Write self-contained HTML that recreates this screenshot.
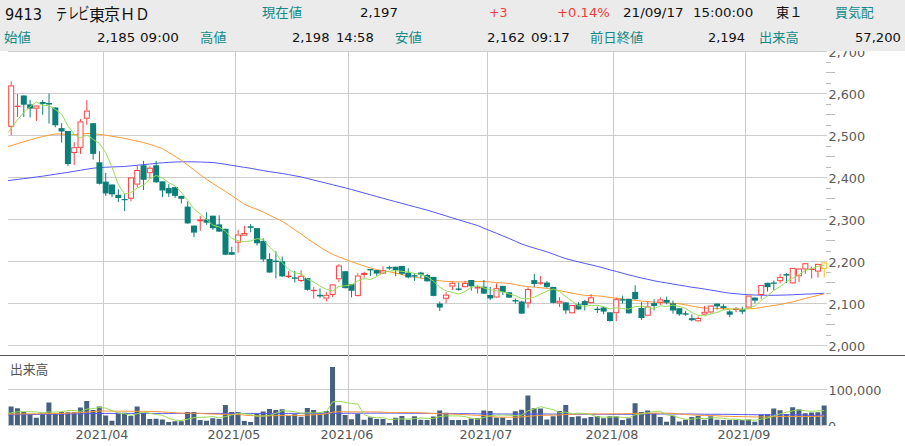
<!DOCTYPE html>
<html><head><meta charset="utf-8">
<style>
html,body{margin:0;padding:0;}
body{width:905px;height:446px;overflow:hidden;background:#fff;position:relative;font-family:"DejaVu Sans","Liberation Sans","Noto Sans CJK JP",sans-serif;}
#hd{position:absolute;left:0;top:0;width:905px;height:51px;background:#ebebeb;}
.t{position:absolute;white-space:nowrap;line-height:1;transform-origin:0 0;}
.n{font-family:"DejaVu Sans","Liberation Sans",sans-serif;font-size:12.8px;color:#111;}
.c{font-family:"Liberation Sans","Noto Sans CJK JP",sans-serif;color:#111;}
.k{font-family:"Liberation Sans","Noto Sans CJK JP",sans-serif;font-size:13px;color:#138a8a;}
.r{color:#f03c3c;}
svg{position:absolute;left:0;top:0;}
.yl{position:absolute;left:828.5px;font-family:"DejaVu Sans",sans-serif;font-size:12.8px;color:#5a5a5a;line-height:16px;white-space:nowrap;}
.xl{position:absolute;top:427px;width:80px;text-align:center;font-family:"DejaVu Sans",sans-serif;font-size:12.5px;color:#555;line-height:16px;}
#vt{position:absolute;left:10px;top:362px;font-family:"Liberation Sans","Noto Sans CJK JP",sans-serif;font-size:12.8px;color:#555;line-height:16px;}
</style></head><body>
<svg width="905" height="446" viewBox="0 0 905 446">
<line x1="8" y1="51.5" x2="827" y2="51.5" stroke="#cccccc" stroke-width="1"/>
<line x1="8" y1="93.5" x2="827" y2="93.5" stroke="#cccccc" stroke-width="1"/>
<line x1="8" y1="135.5" x2="827" y2="135.5" stroke="#cccccc" stroke-width="1"/>
<line x1="8" y1="177.5" x2="827" y2="177.5" stroke="#cccccc" stroke-width="1"/>
<line x1="8" y1="219.5" x2="827" y2="219.5" stroke="#cccccc" stroke-width="1"/>
<line x1="8" y1="261.5" x2="827" y2="261.5" stroke="#cccccc" stroke-width="1"/>
<line x1="8" y1="303.5" x2="827" y2="303.5" stroke="#cccccc" stroke-width="1"/>
<line x1="8" y1="345.5" x2="827" y2="345.5" stroke="#cccccc" stroke-width="1"/>
<line x1="8" y1="389.5" x2="827" y2="389.5" stroke="#cccccc" stroke-width="1"/>
<line x1="8" y1="425.5" x2="827" y2="425.5" stroke="#cccccc" stroke-width="1"/>
<line x1="0" y1="355.5" x2="905" y2="355.5" stroke="#555555" stroke-width="1"/>
<line x1="103.5" y1="51" x2="103.5" y2="425" stroke="#cccccc" stroke-width="1"/>
<line x1="235.5" y1="51" x2="235.5" y2="425" stroke="#cccccc" stroke-width="1"/>
<line x1="348.5" y1="51" x2="348.5" y2="425" stroke="#cccccc" stroke-width="1"/>
<line x1="487.5" y1="51" x2="487.5" y2="425" stroke="#cccccc" stroke-width="1"/>
<line x1="613.5" y1="51" x2="613.5" y2="425" stroke="#cccccc" stroke-width="1"/>
<line x1="745.5" y1="51" x2="745.5" y2="425" stroke="#cccccc" stroke-width="1"/>
<path d="M826,62.5 h5 M826,72.5 h9 M826,83.5 h5 M826,104.5 h5 M826,114.5 h9 M826,125.5 h5 M826,146.5 h5 M826,156.5 h9 M826,167.5 h5 M826,188.5 h5 M826,198.5 h9 M826,209.5 h5 M826,230.5 h5 M826,240.5 h9 M826,251.5 h5 M826,272.5 h5 M826,282.5 h9 M826,293.5 h5 M826,314.5 h5 M826,324.5 h9 M826,335.5 h5" stroke="#bbbbbb" stroke-width="1" fill="none"/>
<path d="M8.60,406.4h5V425h-5ZM14.90,408.2h5V425h-5ZM21.21,412.1h5V425h-5ZM27.51,414.5h5V425h-5ZM33.81,417.8h5V425h-5ZM40.11,412.7h5V425h-5ZM46.42,402.4h5V425h-5ZM52.72,413.2h5V425h-5ZM59.02,412.1h5V425h-5ZM65.32,412.3h5V425h-5ZM71.63,412.3h5V425h-5ZM77.93,407.5h5V425h-5ZM84.23,401h5V425h-5ZM90.54,410.1h5V425h-5ZM96.84,406.4h5V425h-5ZM103.14,415.6h5V425h-5ZM109.44,420.7h5V425h-5ZM115.75,412.7h5V425h-5ZM122.05,412.7h5V425h-5ZM128.35,416h5V425h-5ZM134.65,406.4h5V425h-5ZM140.96,412.7h5V425h-5ZM147.26,419h5V425h-5ZM153.56,418.7h5V425h-5ZM159.86,419.6h5V425h-5ZM166.17,422h5V425h-5ZM172.47,421.2h5V425h-5ZM178.77,421.2h5V425h-5ZM185.08,411.9h5V425h-5ZM191.38,411.9h5V425h-5ZM197.68,420h5V425h-5ZM203.98,420.7h5V425h-5ZM210.29,418.2h5V425h-5ZM216.59,419h5V425h-5ZM222.89,404.9h5V425h-5ZM229.19,412.1h5V425h-5ZM235.50,412.1h5V425h-5ZM241.80,421h5V425h-5ZM248.10,422h5V425h-5ZM254.41,413.8h5V425h-5ZM260.71,411.5h5V425h-5ZM267.01,409h5V425h-5ZM273.31,409.9h5V425h-5ZM279.62,409.3h5V425h-5ZM285.92,416h5V425h-5ZM292.22,414.2h5V425h-5ZM298.52,416.8h5V425h-5ZM304.83,407.9h5V425h-5ZM311.13,409.9h5V425h-5ZM317.43,413.4h5V425h-5ZM323.73,411h5V425h-5ZM330.04,367.0h5V425h-5ZM336.34,405.2h5V425h-5ZM342.64,415h5V425h-5ZM348.95,419.3h5V425h-5ZM355.25,413.7h5V425h-5ZM361.55,419.7h5V425h-5ZM367.85,417.3h5V425h-5ZM374.16,418.9h5V425h-5ZM380.46,418.9h5V425h-5ZM386.76,422.9h5V425h-5ZM393.06,417.8h5V425h-5ZM399.37,416h5V425h-5ZM405.67,419.8h5V425h-5ZM411.97,416.3h5V425h-5ZM418.28,419.8h5V425h-5ZM424.58,420h5V425h-5ZM430.88,416.5h5V425h-5ZM437.18,410.4h5V425h-5ZM443.49,412.7h5V425h-5ZM449.79,420h5V425h-5ZM456.09,420h5V425h-5ZM462.39,420h5V425h-5ZM468.70,418.5h5V425h-5ZM475.00,418.2h5V425h-5ZM481.30,410.4h5V425h-5ZM487.61,411h5V425h-5ZM493.91,417.6h5V425h-5ZM500.21,417.6h5V425h-5ZM506.51,420h5V425h-5ZM512.82,411.2h5V425h-5ZM519.12,409.7h5V425h-5ZM525.42,395.5h5V425h-5ZM531.72,408.2h5V425h-5ZM538.03,408.6h5V425h-5ZM544.33,419.6h5V425h-5ZM550.63,416.3h5V425h-5ZM556.93,411h5V425h-5ZM563.24,404.9h5V425h-5ZM569.54,417.1h5V425h-5ZM575.84,416.3h5V425h-5ZM582.15,418.2h5V425h-5ZM588.45,417.1h5V425h-5ZM594.75,416h5V425h-5ZM601.05,418.2h5V425h-5ZM607.36,416.3h5V425h-5ZM613.66,416.3h5V425h-5ZM619.96,420h5V425h-5ZM626.26,418.2h5V425h-5ZM632.57,403.3h5V425h-5ZM638.87,412.1h5V425h-5ZM645.17,410.4h5V425h-5ZM651.48,413.2h5V425h-5ZM657.78,417.1h5V425h-5ZM664.08,421.8h5V425h-5ZM670.38,415.8h5V425h-5ZM676.69,421.5h5V425h-5ZM682.99,419.8h5V425h-5ZM689.29,417.1h5V425h-5ZM695.59,416h5V425h-5ZM701.90,419.8h5V425h-5ZM708.20,416.3h5V425h-5ZM714.50,419.8h5V425h-5ZM720.81,420h5V425h-5ZM727.11,420h5V425h-5ZM733.41,420h5V425h-5ZM739.71,420h5V425h-5ZM746.02,419.6h5V425h-5ZM752.32,421.8h5V425h-5ZM758.62,414.5h5V425h-5ZM764.92,414.2h5V425h-5ZM771.23,408.4h5V425h-5ZM777.53,410.2h5V425h-5ZM783.83,414h5V425h-5ZM790.13,407.2h5V425h-5ZM796.44,409.3h5V425h-5ZM802.74,413.3h5V425h-5ZM809.04,412.6h5V425h-5ZM815.35,412.2h5V425h-5ZM821.65,405.4h5V425h-5Z" fill="#46607e"/>
<path d="M8.00,414.90 L11.20,414.85 L17.50,414.75 L23.81,414.66 L30.11,414.56 L36.41,414.46 L42.71,414.36 L49.02,414.27 L55.32,414.17 L61.62,414.07 L67.92,413.97 L74.23,413.88 L80.53,413.78 L86.83,413.68 L93.14,413.58 L99.44,413.49 L105.74,413.40 L112.04,413.40 L118.35,413.40 L124.65,413.40 L130.95,413.40 L137.25,413.40 L143.56,413.40 L149.86,413.40 L156.16,413.40 L162.46,413.40 L168.77,413.40 L175.07,413.40 L181.37,413.40 L187.68,413.40 L193.98,413.40 L200.28,413.40 L206.58,413.40 L212.89,413.40 L219.19,413.40 L225.49,413.40 L231.79,413.40 L238.10,413.40 L244.40,413.40 L250.70,413.40 L257.01,413.40 L263.31,413.40 L269.61,413.40 L275.91,413.40 L282.22,413.40 L288.52,413.40 L294.82,413.40 L301.12,413.38 L307.43,413.36 L313.73,413.34 L320.03,413.32 L326.33,413.30 L332.64,413.28 L338.94,413.26 L345.24,413.24 L351.55,413.22 L357.85,413.20 L364.15,413.18 L370.45,413.16 L376.76,413.14 L383.06,413.12 L389.36,413.10 L395.66,413.14 L401.97,413.19 L408.27,413.23 L414.57,413.28 L420.88,413.33 L427.18,413.37 L433.48,413.42 L439.78,413.47 L446.09,413.51 L452.39,413.56 L458.69,413.61 L464.99,413.65 L471.30,413.70 L477.60,413.86 L483.90,413.91 L490.21,413.94 L496.51,413.99 L502.81,414.02 L509.11,414.04 L515.42,414.04 L521.72,414.10 L528.02,413.99 L534.32,413.98 L540.63,413.96 L546.93,414.02 L553.23,414.09 L559.53,414.17 L565.84,414.14 L572.14,414.22 L578.44,414.24 L584.75,414.21 L591.05,414.23 L597.35,414.25 L603.65,414.25 L609.96,414.31 L616.26,414.32 L622.56,414.32 L628.86,414.30 L635.17,414.19 L641.47,414.11 L647.77,414.03 L654.08,413.96 L660.38,413.99 L666.68,414.05 L672.98,414.01 L679.29,414.02 L685.59,414.06 L691.89,414.06 L698.19,414.16 L704.50,414.23 L710.80,414.28 L717.10,414.29 L723.41,414.30 L729.71,414.37 L736.01,414.45 L742.31,414.55 L748.62,414.64 L754.92,414.75 L761.22,414.76 L767.52,414.79 L773.83,414.76 L780.13,414.81 L786.43,414.88 L792.73,414.87 L799.04,414.89 L805.34,415.24 L811.64,415.32 L817.95,415.34 L824.25,415.28" stroke="#5555ff" stroke-width="1" fill="none"/>
<path d="M8.00,414.10 L11.20,414.06 L17.50,413.99 L23.81,413.92 L30.11,413.84 L36.41,413.77 L42.71,413.70 L49.02,413.63 L55.32,413.55 L61.62,413.44 L67.92,413.18 L74.23,412.93 L80.53,412.65 L86.83,412.12 L93.14,411.58 L99.44,411.05 L105.74,411.05 L112.04,411.10 L118.35,411.15 L124.65,411.21 L130.95,411.26 L137.25,411.31 L143.56,411.36 L149.86,411.42 L156.16,411.47 L162.46,411.89 L168.77,412.39 L175.07,412.84 L181.37,413.18 L187.68,413.21 L193.98,413.17 L200.28,413.40 L206.58,413.86 L212.89,414.07 L219.19,414.31 L225.49,414.26 L231.79,414.36 L238.10,414.56 L244.40,415.12 L250.70,415.55 L257.01,415.88 L263.31,415.99 L269.61,415.74 L275.91,415.60 L282.22,415.44 L288.52,415.35 L294.82,415.40 L301.12,415.37 L307.43,415.03 L313.73,414.74 L320.03,414.50 L326.33,413.77 L332.64,412.18 L338.94,411.69 L345.24,411.78 L351.55,411.96 L357.85,411.86 L364.15,411.87 L370.45,411.88 L376.76,411.91 L383.06,412.22 L389.36,412.46 L395.66,412.61 L401.97,412.55 L408.27,412.54 L414.57,412.62 L420.88,412.83 L427.18,413.15 L433.48,413.51 L439.78,413.77 L446.09,413.86 L452.39,414.13 L458.69,414.34 L464.99,414.74 L471.30,415.07 L477.60,415.32 L483.90,415.46 L490.21,416.56 L496.51,417.04 L502.81,417.22 L509.11,417.23 L515.42,417.18 L521.72,416.92 L528.02,416.24 L534.32,415.79 L540.63,415.37 L546.93,415.24 L553.23,415.15 L559.53,414.98 L565.84,414.48 L572.14,414.27 L578.44,413.98 L584.75,413.87 L591.05,413.85 L597.35,413.93 L603.65,414.01 L609.96,413.90 L616.26,413.79 L622.56,413.75 L628.86,413.69 L635.17,413.34 L641.47,413.32 L647.77,413.25 L654.08,413.11 L660.38,413.05 L666.68,413.19 L672.98,413.39 L679.29,413.81 L685.59,414.51 L691.89,414.90 L698.19,415.26 L704.50,415.41 L710.80,415.52 L717.10,415.82 L723.41,416.23 L729.71,416.41 L736.01,416.56 L742.31,416.67 L748.62,416.79 L754.92,416.98 L761.22,416.96 L767.52,416.90 L773.83,416.73 L780.13,416.52 L786.43,416.42 L792.73,416.48 L799.04,416.41 L805.34,416.46 L811.64,416.43 L817.95,416.32 L824.25,415.98" stroke="#ff9933" stroke-width="1" fill="none"/>
<path d="M8.00,413.40 L11.20,412.89 L17.50,411.90 L23.81,411.61 L30.11,411.80 L36.41,411.80 L42.71,413.06 L49.02,411.90 L55.32,412.12 L61.62,411.64 L67.92,410.54 L74.23,410.46 L80.53,411.48 L86.83,409.04 L93.14,408.64 L99.44,407.46 L105.74,408.12 L112.04,410.76 L118.35,413.10 L124.65,413.62 L130.95,415.54 L137.25,413.70 L143.56,412.10 L149.86,413.36 L156.16,414.56 L162.46,415.28 L168.77,418.40 L175.07,420.10 L181.37,420.54 L187.68,419.18 L193.98,417.64 L200.28,417.24 L206.58,417.14 L212.89,416.54 L219.19,417.96 L225.49,416.56 L231.79,414.98 L238.10,413.26 L244.40,413.82 L250.70,414.42 L257.01,416.20 L263.31,416.08 L269.61,415.46 L275.91,413.24 L282.22,410.70 L288.52,411.14 L294.82,411.68 L301.12,413.24 L307.43,412.84 L313.73,412.96 L320.03,412.44 L326.33,411.80 L332.64,401.84 L338.94,401.30 L345.24,402.32 L351.55,403.50 L357.85,404.04 L364.15,414.58 L370.45,417.00 L376.76,417.78 L383.06,417.70 L389.36,419.54 L395.66,419.16 L401.97,418.90 L408.27,419.08 L414.57,418.56 L420.88,417.94 L427.18,418.38 L433.48,418.48 L439.78,416.60 L446.09,415.88 L452.39,415.92 L458.69,415.92 L464.99,416.62 L471.30,418.24 L477.60,419.34 L483.90,417.42 L490.21,415.62 L496.51,415.14 L502.81,414.96 L509.11,415.32 L515.42,415.48 L521.72,415.22 L528.02,410.80 L534.32,408.92 L540.63,406.64 L546.93,408.32 L553.23,409.64 L559.53,412.74 L565.84,412.08 L572.14,413.78 L578.44,413.12 L584.75,413.50 L591.05,414.72 L597.35,416.94 L603.65,417.16 L609.96,417.16 L616.26,416.78 L622.56,417.36 L628.86,417.80 L635.17,414.82 L641.47,413.98 L647.77,412.80 L654.08,411.44 L660.38,411.22 L666.68,414.92 L672.98,415.66 L679.29,417.88 L685.59,419.20 L691.89,419.20 L698.19,418.04 L704.50,418.84 L710.80,417.80 L717.10,417.80 L723.41,418.38 L729.71,419.18 L736.01,419.22 L742.31,419.96 L748.62,419.92 L754.92,420.28 L761.22,419.18 L767.52,418.02 L773.83,415.70 L780.13,413.82 L786.43,412.26 L792.73,410.80 L799.04,409.82 L805.34,410.80 L811.64,411.28 L817.95,410.92 L824.25,410.56" stroke="#99dd55" stroke-width="1" fill="none"/>
<path d="M8.00,180.60 L11.20,180.20 L17.50,179.40 L23.81,178.61 L30.11,177.82 L36.41,177.03 L42.71,176.16 L49.02,175.21 L55.32,174.26 L61.62,173.31 L67.92,172.33 L74.23,171.29 L80.53,170.24 L86.83,169.20 L93.14,168.18 L99.44,167.59 L105.74,167.26 L112.04,166.93 L118.35,166.74 L124.65,166.47 L130.95,165.85 L137.25,165.24 L143.56,164.63 L149.86,164.01 L156.16,163.41 L162.46,162.80 L168.77,162.31 L175.07,162.04 L181.37,161.78 L187.68,161.78 L193.98,161.89 L200.28,162.02 L206.58,162.26 L212.89,162.50 L219.19,163.32 L225.49,164.30 L231.79,165.36 L238.10,166.39 L244.40,167.33 L250.70,168.32 L257.01,169.46 L263.31,170.61 L269.61,171.64 L275.91,172.58 L282.22,173.53 L288.52,174.64 L294.82,175.77 L301.12,176.98 L307.43,178.53 L313.73,180.09 L320.03,181.65 L326.33,183.20 L332.64,184.76 L338.94,186.31 L345.24,187.87 L351.55,189.53 L357.85,191.28 L364.15,193.03 L370.45,194.78 L376.76,196.54 L383.06,198.29 L389.36,200.03 L395.66,201.72 L401.97,203.40 L408.27,205.09 L414.57,206.77 L420.88,208.45 L427.18,210.14 L433.48,212.02 L439.78,213.98 L446.09,215.93 L452.39,217.89 L458.69,219.84 L464.99,221.74 L471.30,223.62 L477.60,225.53 L483.90,228.19 L490.21,230.76 L496.51,233.28 L502.81,235.83 L509.11,238.52 L515.42,241.24 L521.72,244.05 L528.02,246.17 L534.32,248.14 L540.63,249.89 L546.93,251.82 L553.23,254.12 L559.53,256.49 L565.84,258.63 L572.14,260.31 L578.44,261.87 L584.75,263.40 L591.05,264.85 L597.35,266.36 L603.65,268.04 L609.96,269.83 L616.26,271.45 L622.56,273.18 L628.86,274.90 L635.17,276.46 L641.47,277.97 L647.77,279.38 L654.08,280.78 L660.38,281.95 L666.68,282.94 L672.98,284.07 L679.29,285.14 L685.59,286.18 L691.89,287.23 L698.19,288.11 L704.50,289.03 L710.80,290.06 L717.10,291.12 L723.41,292.21 L729.71,293.17 L736.01,293.78 L742.31,294.32 L748.62,294.73 L754.92,295.00 L761.22,295.17 L767.52,295.28 L773.83,295.29 L780.13,295.17 L786.43,295.04 L792.73,294.75 L799.04,294.41 L805.34,294.10 L811.64,293.95 L817.95,293.62 L824.25,293.28" stroke="#5555ff" stroke-width="1" fill="none"/>
<path d="M8.00,146.60 L11.20,145.62 L17.50,143.70 L23.81,141.79 L30.11,139.97 L36.41,138.15 L42.71,136.53 L49.02,135.23 L55.32,133.94 L61.62,134.05 L67.92,134.33 L74.23,134.58 L80.53,134.06 L86.83,133.54 L93.14,133.69 L99.44,134.40 L105.74,135.25 L112.04,136.27 L118.35,137.29 L124.65,138.40 L130.95,139.77 L137.25,141.15 L143.56,142.53 L149.86,144.38 L156.16,146.47 L162.46,148.59 L168.77,152.51 L175.07,156.31 L181.37,160.30 L187.68,164.96 L193.98,169.94 L200.28,174.72 L206.58,179.23 L212.89,183.45 L219.19,187.60 L225.49,191.46 L231.79,195.64 L238.10,199.93 L244.40,204.33 L250.70,207.00 L257.01,209.39 L263.31,212.13 L269.61,215.31 L275.91,218.21 L282.22,221.32 L288.52,225.46 L294.82,229.79 L301.12,233.95 L307.43,238.59 L313.73,242.85 L320.03,247.07 L326.33,251.04 L332.64,254.28 L338.94,256.87 L345.24,259.39 L351.55,261.68 L357.85,263.82 L364.15,266.01 L370.45,267.98 L376.76,269.62 L383.06,270.73 L389.36,271.78 L395.66,273.09 L401.97,274.50 L408.27,276.09 L414.57,277.35 L420.88,278.10 L427.18,278.68 L433.48,279.77 L439.78,280.80 L446.09,281.41 L452.39,281.60 L458.69,281.99 L464.99,281.83 L471.30,281.71 L477.60,281.46 L483.90,281.45 L490.21,281.96 L496.51,282.64 L502.81,282.94 L509.11,283.49 L515.42,284.52 L521.72,285.84 L528.02,286.69 L534.32,287.18 L540.63,287.70 L546.93,288.35 L553.23,289.46 L559.53,290.62 L565.84,291.93 L572.14,293.16 L578.44,294.42 L584.75,295.37 L591.05,295.62 L597.35,295.88 L603.65,296.43 L609.96,297.57 L616.26,298.18 L622.56,298.88 L628.86,299.76 L635.17,300.35 L641.47,301.16 L647.77,301.55 L654.08,302.15 L660.38,302.53 L666.68,302.86 L672.98,303.32 L679.29,303.82 L685.59,304.81 L691.89,306.02 L698.19,307.22 L704.50,308.07 L710.80,308.41 L717.10,308.73 L723.41,308.71 L729.71,308.93 L736.01,308.94 L742.31,309.03 L748.62,308.82 L754.92,308.47 L761.22,307.49 L767.52,306.33 L773.83,305.48 L780.13,304.47 L786.43,303.17 L792.73,301.90 L799.04,300.12 L805.34,298.47 L811.64,296.93 L817.95,295.41 L824.25,293.87" stroke="#ff9933" stroke-width="1" fill="none"/>
<path d="M11.20,81.5V85.4M11.20,126.8V135.2" stroke="#ff4040" stroke-width="1"/>
<rect x="8.70" y="85.9" width="5" height="40.4" fill="#fff" stroke="#ff4040" stroke-width="1"/>
<path d="M17.50,94V117" stroke="#ff4040" stroke-width="1"/>
<rect x="14.50" y="105.7" width="6" height="1.2" fill="#ff4040"/>
<path d="M23.81,95.5V117" stroke="#0b7e7a" stroke-width="1"/>
<rect x="20.81" y="95.5" width="6" height="9.2" fill="#0b7e7a"/>
<path d="M30.11,99.9V117.4" stroke="#0b7e7a" stroke-width="1"/>
<rect x="27.11" y="104.4" width="6" height="4.2" fill="#0b7e7a"/>
<path d="M36.41,105.3V105.5M36.41,108.7V121" stroke="#ff4040" stroke-width="1"/>
<rect x="33.91" y="106.0" width="5" height="2.2" fill="#fff" stroke="#ff4040" stroke-width="1"/>
<path d="M42.71,99.9V114.8" stroke="#0b7e7a" stroke-width="1"/>
<rect x="39.71" y="102" width="6" height="1.9" fill="#0b7e7a"/>
<path d="M49.02,93.5V123.6" stroke="#0b7e7a" stroke-width="1"/>
<rect x="46.02" y="103" width="6" height="1.5" fill="#0b7e7a"/>
<path d="M55.32,107.5V127.3" stroke="#0b7e7a" stroke-width="1"/>
<rect x="52.32" y="107.5" width="6" height="17.8" fill="#0b7e7a"/>
<path d="M61.62,123.2V142.7" stroke="#0b7e7a" stroke-width="1"/>
<rect x="58.62" y="128.1" width="6" height="3.4" fill="#0b7e7a"/>
<path d="M67.92,131V166.2" stroke="#0b7e7a" stroke-width="1"/>
<rect x="64.92" y="131" width="6" height="33" fill="#0b7e7a"/>
<path d="M74.23,142.3V147.2M74.23,153.0V165" stroke="#ff4040" stroke-width="1"/>
<rect x="71.73" y="147.7" width="5" height="4.8" fill="#fff" stroke="#ff4040" stroke-width="1"/>
<path d="M80.53,119.1V121.4M80.53,147.8V153.9" stroke="#ff4040" stroke-width="1"/>
<rect x="78.03" y="121.9" width="5" height="25.4" fill="#fff" stroke="#ff4040" stroke-width="1"/>
<path d="M86.83,100V110.6M86.83,118.7V124.8" stroke="#ff4040" stroke-width="1"/>
<rect x="84.33" y="111.1" width="5" height="7.1" fill="#fff" stroke="#ff4040" stroke-width="1"/>
<path d="M93.14,123.2V159.5" stroke="#0b7e7a" stroke-width="1"/>
<rect x="90.14" y="123.2" width="6" height="30.7" fill="#0b7e7a"/>
<path d="M99.44,151.3V184.5" stroke="#0b7e7a" stroke-width="1"/>
<rect x="96.44" y="162.3" width="6" height="21.5" fill="#0b7e7a"/>
<path d="M105.74,173V195.9" stroke="#0b7e7a" stroke-width="1"/>
<rect x="102.74" y="181.7" width="6" height="11.7" fill="#0b7e7a"/>
<path d="M112.04,184.5V197.3" stroke="#0b7e7a" stroke-width="1"/>
<rect x="109.04" y="184.5" width="6" height="9.9" fill="#0b7e7a"/>
<path d="M118.35,189.3V202.1" stroke="#0b7e7a" stroke-width="1"/>
<rect x="115.35" y="194.8" width="6" height="3.2" fill="#0b7e7a"/>
<path d="M124.65,193.7V211.1" stroke="#0b7e7a" stroke-width="1"/>
<rect x="121.65" y="199" width="6" height="1.2" fill="#0b7e7a"/>
<path d="M130.95,177.4V177.4M130.95,198.8V201.2" stroke="#ff4040" stroke-width="1"/>
<rect x="128.45" y="177.9" width="5" height="20.4" fill="#fff" stroke="#ff4040" stroke-width="1"/>
<path d="M137.25,165.7V170.0M137.25,184.6V187.3" stroke="#ff4040" stroke-width="1"/>
<rect x="134.75" y="170.5" width="5" height="13.6" fill="#fff" stroke="#ff4040" stroke-width="1"/>
<path d="M143.56,160.9V190" stroke="#0b7e7a" stroke-width="1"/>
<rect x="140.56" y="165.3" width="6" height="14.5" fill="#0b7e7a"/>
<path d="M149.86,166V167.7M149.86,173.2V178.4" stroke="#ff4040" stroke-width="1"/>
<rect x="147.36" y="168.2" width="5" height="4.5" fill="#fff" stroke="#ff4040" stroke-width="1"/>
<path d="M156.16,160.9V182.8" stroke="#0b7e7a" stroke-width="1"/>
<rect x="153.16" y="165.3" width="6" height="17.0" fill="#0b7e7a"/>
<path d="M162.46,181.3V196.9" stroke="#0b7e7a" stroke-width="1"/>
<rect x="159.46" y="181.3" width="6" height="9.2" fill="#0b7e7a"/>
<path d="M168.77,184.2V196.9" stroke="#0b7e7a" stroke-width="1"/>
<rect x="165.77" y="188.1" width="6" height="5.3" fill="#0b7e7a"/>
<path d="M175.07,186.7V198" stroke="#0b7e7a" stroke-width="1"/>
<rect x="172.07" y="187.1" width="6" height="8.8" fill="#0b7e7a"/>
<path d="M181.37,195.9V203.5" stroke="#0b7e7a" stroke-width="1"/>
<rect x="178.37" y="195.9" width="6" height="2.9" fill="#0b7e7a"/>
<path d="M187.68,201.5V223.8" stroke="#0b7e7a" stroke-width="1"/>
<rect x="184.68" y="206.6" width="6" height="16.8" fill="#0b7e7a"/>
<path d="M193.98,225.6V237.2" stroke="#0b7e7a" stroke-width="1"/>
<rect x="190.98" y="225.6" width="6" height="7.0" fill="#0b7e7a"/>
<path d="M200.28,216.1V230.7" stroke="#ff4040" stroke-width="1"/>
<rect x="197.28" y="219.5" width="6" height="1.7" fill="#ff4040"/>
<path d="M206.58,212.2V224.8" stroke="#0b7e7a" stroke-width="1"/>
<rect x="203.58" y="219.5" width="6" height="3.2" fill="#0b7e7a"/>
<path d="M212.89,215.7V230" stroke="#0b7e7a" stroke-width="1"/>
<rect x="209.89" y="215.7" width="6" height="12.5" fill="#0b7e7a"/>
<path d="M219.19,215.4V231.9" stroke="#0b7e7a" stroke-width="1"/>
<rect x="216.19" y="224.4" width="6" height="7.2" fill="#0b7e7a"/>
<path d="M225.49,228.8V255" stroke="#0b7e7a" stroke-width="1"/>
<rect x="222.49" y="228.8" width="6" height="25.9" fill="#0b7e7a"/>
<path d="M231.79,246.7V255" stroke="#0b7e7a" stroke-width="1"/>
<rect x="228.79" y="252.2" width="6" height="2.5" fill="#0b7e7a"/>
<path d="M238.10,229.8V234.5M238.10,242.7V252.6" stroke="#ff4040" stroke-width="1"/>
<rect x="235.60" y="235.0" width="5" height="7.2" fill="#fff" stroke="#ff4040" stroke-width="1"/>
<path d="M244.40,225.9V233.0M244.40,235.6V235.8" stroke="#ff4040" stroke-width="1"/>
<rect x="241.90" y="233.5" width="5" height="1.6" fill="#fff" stroke="#ff4040" stroke-width="1"/>
<path d="M250.70,224V232.2" stroke="#0b7e7a" stroke-width="1"/>
<rect x="247.70" y="226.3" width="6" height="1.5" fill="#0b7e7a"/>
<path d="M257.01,228.1V245.6" stroke="#0b7e7a" stroke-width="1"/>
<rect x="254.01" y="228.1" width="6" height="15.2" fill="#0b7e7a"/>
<path d="M263.31,238.3V261.6" stroke="#0b7e7a" stroke-width="1"/>
<rect x="260.31" y="240.9" width="6" height="18.5" fill="#0b7e7a"/>
<path d="M269.61,253.1V272.8" stroke="#0b7e7a" stroke-width="1"/>
<rect x="266.61" y="259" width="6" height="13.5" fill="#0b7e7a"/>
<path d="M275.91,251.4V278.3" stroke="#0b7e7a" stroke-width="1"/>
<rect x="272.91" y="260.6" width="6" height="1.4" fill="#0b7e7a"/>
<path d="M282.22,256.5V276.8" stroke="#0b7e7a" stroke-width="1"/>
<rect x="279.22" y="261.3" width="6" height="15.1" fill="#0b7e7a"/>
<path d="M288.52,271.2V278.1" stroke="#ff4040" stroke-width="1"/>
<rect x="285.52" y="275.6" width="6" height="1.4" fill="#ff4040"/>
<path d="M294.82,270.9V282.5" stroke="#0b7e7a" stroke-width="1"/>
<rect x="291.82" y="277.4" width="6" height="1.4" fill="#0b7e7a"/>
<path d="M301.12,270.3V275.7M301.12,281V282" stroke="#ff4040" stroke-width="1"/>
<rect x="298.62" y="276.2" width="5" height="4.3" fill="#fff" stroke="#ff4040" stroke-width="1"/>
<path d="M307.43,278.1V290.7" stroke="#0b7e7a" stroke-width="1"/>
<rect x="304.43" y="278.1" width="6" height="11.7" fill="#0b7e7a"/>
<path d="M313.73,286.9V298.5" stroke="#ff4040" stroke-width="1"/>
<rect x="310.73" y="289.8" width="6" height="1.4" fill="#ff4040"/>
<path d="M320.03,288.3V297.9" stroke="#0b7e7a" stroke-width="1"/>
<rect x="317.03" y="294.8" width="6" height="1.6" fill="#0b7e7a"/>
<path d="M326.33,291.7V294.8M326.33,298.6V301.4" stroke="#ff4040" stroke-width="1"/>
<rect x="323.83" y="295.3" width="5" height="2.8" fill="#fff" stroke="#ff4040" stroke-width="1"/>
<path d="M332.64,284V284.4M332.64,295V297" stroke="#ff4040" stroke-width="1"/>
<rect x="330.14" y="284.9" width="5" height="9.6" fill="#fff" stroke="#ff4040" stroke-width="1"/>
<path d="M338.94,264V265.5M338.94,279.3V282.2" stroke="#ff4040" stroke-width="1"/>
<rect x="336.44" y="266.0" width="5" height="12.8" fill="#fff" stroke="#ff4040" stroke-width="1"/>
<path d="M345.24,271.2V288.5" stroke="#0b7e7a" stroke-width="1"/>
<rect x="342.24" y="271.2" width="6" height="16.9" fill="#0b7e7a"/>
<path d="M351.55,284.2V297.3" stroke="#0b7e7a" stroke-width="1"/>
<rect x="348.55" y="284.2" width="6" height="6.6" fill="#0b7e7a"/>
<path d="M357.85,273.3V275.5M357.85,296.1V296.4" stroke="#ff4040" stroke-width="1"/>
<rect x="355.35" y="276.0" width="5" height="19.6" fill="#fff" stroke="#ff4040" stroke-width="1"/>
<path d="M364.15,271.8V277.7" stroke="#ff4040" stroke-width="1"/>
<rect x="361.15" y="272.9" width="6" height="2.1" fill="#ff4040"/>
<path d="M370.45,268.9V275.9" stroke="#0b7e7a" stroke-width="1"/>
<rect x="367.45" y="269" width="6" height="1.4" fill="#0b7e7a"/>
<path d="M376.76,270.1V275.9" stroke="#0b7e7a" stroke-width="1"/>
<rect x="373.76" y="270.1" width="6" height="3.5" fill="#0b7e7a"/>
<path d="M383.06,266.3V270.4M383.06,273.6V274" stroke="#ff4040" stroke-width="1"/>
<rect x="380.56" y="270.9" width="5" height="2.2" fill="#fff" stroke="#ff4040" stroke-width="1"/>
<path d="M389.36,265.7V269.7" stroke="#0b7e7a" stroke-width="1"/>
<rect x="386.36" y="267.1" width="6" height="1.4" fill="#0b7e7a"/>
<path d="M395.66,266.7V276.2" stroke="#0b7e7a" stroke-width="1"/>
<rect x="392.66" y="266.7" width="6" height="3.7" fill="#0b7e7a"/>
<path d="M401.97,265.7V275" stroke="#0b7e7a" stroke-width="1"/>
<rect x="398.97" y="266" width="6" height="7.8" fill="#0b7e7a"/>
<path d="M408.27,268.2V278.4" stroke="#0b7e7a" stroke-width="1"/>
<rect x="405.27" y="272.6" width="6" height="4.8" fill="#0b7e7a"/>
<path d="M414.57,273.3V280.9" stroke="#0b7e7a" stroke-width="1"/>
<rect x="411.57" y="275.2" width="6" height="1.4" fill="#0b7e7a"/>
<path d="M420.88,271.8V278.4" stroke="#0b7e7a" stroke-width="1"/>
<rect x="417.88" y="272.6" width="6" height="2.1" fill="#0b7e7a"/>
<path d="M427.18,274V281.6" stroke="#0b7e7a" stroke-width="1"/>
<rect x="424.18" y="275" width="6" height="6.3" fill="#0b7e7a"/>
<path d="M433.48,276.9V296.3" stroke="#0b7e7a" stroke-width="1"/>
<rect x="430.48" y="276.9" width="6" height="19.0" fill="#0b7e7a"/>
<path d="M439.78,301.7V311.1" stroke="#0b7e7a" stroke-width="1"/>
<rect x="436.78" y="303.6" width="6" height="3.9" fill="#0b7e7a"/>
<path d="M446.09,292.2V294.6M446.09,298.8V303.1" stroke="#ff4040" stroke-width="1"/>
<rect x="443.59" y="295.1" width="5" height="3.2" fill="#fff" stroke="#ff4040" stroke-width="1"/>
<path d="M452.39,281.5V282.8M452.39,286.6V290" stroke="#ff4040" stroke-width="1"/>
<rect x="449.89" y="283.3" width="5" height="2.8" fill="#fff" stroke="#ff4040" stroke-width="1"/>
<path d="M458.69,282.7V290.7" stroke="#0b7e7a" stroke-width="1"/>
<rect x="455.69" y="288.5" width="6" height="1.4" fill="#0b7e7a"/>
<path d="M464.99,280.9V282.9M464.99,287.2V287.4" stroke="#ff4040" stroke-width="1"/>
<rect x="462.49" y="283.4" width="5" height="3.3" fill="#fff" stroke="#ff4040" stroke-width="1"/>
<path d="M471.30,280V290.7" stroke="#0b7e7a" stroke-width="1"/>
<rect x="468.30" y="280" width="6" height="6.3" fill="#0b7e7a"/>
<path d="M477.60,285.3V293.6" stroke="#ff4040" stroke-width="1"/>
<rect x="474.60" y="287.1" width="6" height="1.4" fill="#ff4040"/>
<path d="M483.90,280V294" stroke="#0b7e7a" stroke-width="1"/>
<rect x="480.90" y="286.7" width="6" height="6.9" fill="#0b7e7a"/>
<path d="M490.21,287V300.1" stroke="#0b7e7a" stroke-width="1"/>
<rect x="487.21" y="295" width="6" height="3.4" fill="#0b7e7a"/>
<path d="M496.51,283.4V288.2M496.51,297.5V297.9" stroke="#ff4040" stroke-width="1"/>
<rect x="494.01" y="288.7" width="5" height="8.3" fill="#fff" stroke="#ff4040" stroke-width="1"/>
<path d="M502.81,285.9V295" stroke="#0b7e7a" stroke-width="1"/>
<rect x="499.81" y="285.9" width="6" height="6.2" fill="#0b7e7a"/>
<path d="M509.11,292.3V298" stroke="#0b7e7a" stroke-width="1"/>
<rect x="506.11" y="292.3" width="6" height="5.3" fill="#0b7e7a"/>
<path d="M515.42,298.6V303.7" stroke="#0b7e7a" stroke-width="1"/>
<rect x="512.42" y="300.1" width="6" height="1.4" fill="#0b7e7a"/>
<path d="M521.72,300.8V314" stroke="#0b7e7a" stroke-width="1"/>
<rect x="518.72" y="301.5" width="6" height="12.1" fill="#0b7e7a"/>
<path d="M528.02,287.4V289.1M528.02,303.4V308" stroke="#ff4040" stroke-width="1"/>
<rect x="525.52" y="289.6" width="5" height="13.3" fill="#fff" stroke="#ff4040" stroke-width="1"/>
<path d="M534.32,273.8V286.9" stroke="#0b7e7a" stroke-width="1"/>
<rect x="531.32" y="280.1" width="6" height="3.9" fill="#0b7e7a"/>
<path d="M540.63,276V284.7" stroke="#ff4040" stroke-width="1"/>
<rect x="537.63" y="282.3" width="6" height="1.4" fill="#ff4040"/>
<path d="M546.93,281.1V287.9" stroke="#0b7e7a" stroke-width="1"/>
<rect x="543.93" y="282.6" width="6" height="4.3" fill="#0b7e7a"/>
<path d="M553.23,286.9V303.3" stroke="#0b7e7a" stroke-width="1"/>
<rect x="550.23" y="286.9" width="6" height="16.0" fill="#0b7e7a"/>
<path d="M559.53,297.1V300.8M559.53,303.4V306.9" stroke="#ff4040" stroke-width="1"/>
<rect x="557.03" y="301.3" width="5" height="1.6" fill="#fff" stroke="#ff4040" stroke-width="1"/>
<path d="M565.84,302.4V313.8" stroke="#0b7e7a" stroke-width="1"/>
<rect x="562.84" y="302.4" width="6" height="8.0" fill="#0b7e7a"/>
<path d="M572.14,305.0V305.0M572.14,313.3V313.6" stroke="#ff4040" stroke-width="1"/>
<rect x="569.64" y="305.5" width="5" height="7.3" fill="#fff" stroke="#ff4040" stroke-width="1"/>
<path d="M578.44,302.1V309.8" stroke="#0b7e7a" stroke-width="1"/>
<rect x="575.44" y="304.3" width="6" height="5.1" fill="#0b7e7a"/>
<path d="M584.75,299.9V310.4" stroke="#0b7e7a" stroke-width="1"/>
<rect x="581.75" y="301.1" width="6" height="3.9" fill="#0b7e7a"/>
<path d="M591.05,294.1V297.3M591.05,303.1V303.5" stroke="#ff4040" stroke-width="1"/>
<rect x="588.55" y="297.8" width="5" height="4.8" fill="#fff" stroke="#ff4040" stroke-width="1"/>
<path d="M597.35,306.5V313" stroke="#0b7e7a" stroke-width="1"/>
<rect x="594.35" y="308.7" width="6" height="1.4" fill="#0b7e7a"/>
<path d="M603.65,306.5V314.2" stroke="#0b7e7a" stroke-width="1"/>
<rect x="600.65" y="307.5" width="6" height="4.1" fill="#0b7e7a"/>
<path d="M609.96,312.3V321.4" stroke="#0b7e7a" stroke-width="1"/>
<rect x="606.96" y="312.3" width="6" height="8.7" fill="#0b7e7a"/>
<path d="M616.26,297.8V299.2M616.26,313.2V321" stroke="#ff4040" stroke-width="1"/>
<rect x="613.76" y="299.7" width="5" height="13.0" fill="#fff" stroke="#ff4040" stroke-width="1"/>
<path d="M622.56,295.6V303.6" stroke="#0b7e7a" stroke-width="1"/>
<rect x="619.56" y="299.2" width="6" height="1.4" fill="#0b7e7a"/>
<path d="M628.86,298.8V313.7" stroke="#0b7e7a" stroke-width="1"/>
<rect x="625.86" y="298.8" width="6" height="14.5" fill="#0b7e7a"/>
<path d="M635.17,285.4V299.6" stroke="#0b7e7a" stroke-width="1"/>
<rect x="632.17" y="291.9" width="6" height="7.3" fill="#0b7e7a"/>
<path d="M641.47,302.1V319.8" stroke="#0b7e7a" stroke-width="1"/>
<rect x="638.47" y="307.9" width="6" height="10.1" fill="#0b7e7a"/>
<path d="M647.77,301.4V306.5M647.77,315.7V316.1" stroke="#ff4040" stroke-width="1"/>
<rect x="645.27" y="307.0" width="5" height="8.2" fill="#fff" stroke="#ff4040" stroke-width="1"/>
<path d="M654.08,299.2V310.4" stroke="#0b7e7a" stroke-width="1"/>
<rect x="651.08" y="303.1" width="6" height="2.9" fill="#0b7e7a"/>
<path d="M660.38,297.3V299.4M660.38,302.7V305" stroke="#ff4040" stroke-width="1"/>
<rect x="657.88" y="299.9" width="5" height="2.3" fill="#fff" stroke="#ff4040" stroke-width="1"/>
<path d="M666.68,296.7V304.3" stroke="#0b7e7a" stroke-width="1"/>
<rect x="663.68" y="299.9" width="6" height="2.7" fill="#0b7e7a"/>
<path d="M672.98,300.5V313.6" stroke="#0b7e7a" stroke-width="1"/>
<rect x="669.98" y="303.4" width="6" height="7.1" fill="#0b7e7a"/>
<path d="M679.29,308.2V315.8" stroke="#0b7e7a" stroke-width="1"/>
<rect x="676.29" y="308.2" width="6" height="6.1" fill="#0b7e7a"/>
<path d="M685.59,311.1V315.8" stroke="#0b7e7a" stroke-width="1"/>
<rect x="682.59" y="313.3" width="6" height="1.4" fill="#0b7e7a"/>
<path d="M691.89,314.3V321.3" stroke="#0b7e7a" stroke-width="1"/>
<rect x="688.89" y="318.2" width="6" height="2.0" fill="#0b7e7a"/>
<path d="M698.19,316.5V318M698.19,321.3V321.7" stroke="#ff4040" stroke-width="1"/>
<rect x="695.69" y="318.5" width="5" height="2.3" fill="#fff" stroke="#ff4040" stroke-width="1"/>
<path d="M704.50,306.1V311.8M704.50,314.6V314.8" stroke="#ff4040" stroke-width="1"/>
<rect x="702.00" y="312.3" width="5" height="1.8" fill="#fff" stroke="#ff4040" stroke-width="1"/>
<path d="M710.80,305.3V305.6M710.80,312.5V313.7" stroke="#ff4040" stroke-width="1"/>
<rect x="708.30" y="306.1" width="5" height="5.9" fill="#fff" stroke="#ff4040" stroke-width="1"/>
<path d="M717.10,303.6V309.4" stroke="#0b7e7a" stroke-width="1"/>
<rect x="714.10" y="303.6" width="6" height="2.8" fill="#0b7e7a"/>
<path d="M723.41,304.2V309.7" stroke="#0b7e7a" stroke-width="1"/>
<rect x="720.41" y="306.2" width="6" height="1.8" fill="#0b7e7a"/>
<path d="M729.71,310.2V317.1" stroke="#0b7e7a" stroke-width="1"/>
<rect x="726.71" y="311.4" width="6" height="3.3" fill="#0b7e7a"/>
<path d="M736.01,307.2V312.2" stroke="#ff4040" stroke-width="1"/>
<rect x="733.01" y="308.7" width="6" height="1.3" fill="#ff4040"/>
<path d="M742.31,306.7V314.2" stroke="#0b7e7a" stroke-width="1"/>
<rect x="739.31" y="309.2" width="6" height="2.5" fill="#0b7e7a"/>
<path d="M748.62,295.4V295.6M748.62,307.6V307.8" stroke="#ff4040" stroke-width="1"/>
<rect x="746.12" y="296.1" width="5" height="11.0" fill="#fff" stroke="#ff4040" stroke-width="1"/>
<path d="M754.92,297.3V303.3" stroke="#0b7e7a" stroke-width="1"/>
<rect x="751.92" y="297.6" width="6" height="3.0" fill="#0b7e7a"/>
<path d="M761.22,284.9V284.9M761.22,295V298.9" stroke="#ff4040" stroke-width="1"/>
<rect x="758.72" y="285.4" width="5" height="9.1" fill="#fff" stroke="#ff4040" stroke-width="1"/>
<path d="M767.52,282.8V291.5" stroke="#0b7e7a" stroke-width="1"/>
<rect x="764.52" y="282.8" width="6" height="4.3" fill="#0b7e7a"/>
<path d="M773.83,280.5V290.2" stroke="#0b7e7a" stroke-width="1"/>
<rect x="770.83" y="282.5" width="6" height="1.3" fill="#0b7e7a"/>
<path d="M780.13,274.1V276.9M780.13,281.2V283.4" stroke="#ff4040" stroke-width="1"/>
<rect x="777.63" y="277.4" width="5" height="3.3" fill="#fff" stroke="#ff4040" stroke-width="1"/>
<path d="M786.43,273V283.1" stroke="#0b7e7a" stroke-width="1"/>
<rect x="783.43" y="274.1" width="6" height="1.5" fill="#0b7e7a"/>
<path d="M792.73,267.9V267.9M792.73,283.4V283.8" stroke="#ff4040" stroke-width="1"/>
<rect x="790.23" y="268.4" width="5" height="14.5" fill="#fff" stroke="#ff4040" stroke-width="1"/>
<path d="M799.04,268.3V268.5M799.04,276.3V282" stroke="#ff4040" stroke-width="1"/>
<rect x="796.54" y="269.0" width="5" height="6.8" fill="#fff" stroke="#ff4040" stroke-width="1"/>
<path d="M805.34,263.0V263.2M805.34,269.5V273.8" stroke="#ff4040" stroke-width="1"/>
<rect x="802.84" y="263.7" width="5" height="5.3" fill="#fff" stroke="#ff4040" stroke-width="1"/>
<path d="M811.64,266.6V278.6" stroke="#ff4040" stroke-width="1"/>
<rect x="808.64" y="268.6" width="6" height="1.4" fill="#ff4040"/>
<path d="M817.95,263.7V263.9M817.95,271.6V277.5" stroke="#ff4040" stroke-width="1"/>
<rect x="815.45" y="264.4" width="5" height="6.7" fill="#fff" stroke="#ff4040" stroke-width="1"/>
<path d="M824.25,262.2V262.4M824.25,268.9V277.5" stroke="#ffc414" stroke-width="1"/>
<rect x="821.75" y="262.9" width="5" height="5.5" fill="#fff" stroke="#ffc414" stroke-width="1"/>
<path d="M8.00,132.50 L11.20,128.43 L17.50,119.93 L23.81,112.43 L30.11,106.74 L36.41,101.98 L42.71,105.68 L49.02,105.44 L55.32,109.56 L61.62,114.14 L67.92,125.84 L74.23,134.50 L80.53,137.88 L86.83,134.94 L93.14,139.42 L99.44,143.38 L105.74,152.62 L112.04,167.22 L118.35,184.70 L124.65,193.96 L130.95,192.68 L137.25,188.00 L143.56,185.08 L149.86,179.02 L156.16,175.44 L162.46,178.06 L168.77,182.74 L175.07,185.96 L181.37,192.18 L187.68,200.40 L193.98,208.82 L200.28,214.04 L206.58,219.40 L212.89,225.28 L219.19,226.92 L225.49,231.34 L231.79,238.38 L238.10,240.74 L244.40,241.70 L250.70,240.94 L257.01,238.66 L263.31,239.60 L269.61,247.20 L275.91,253.00 L282.22,262.72 L288.52,269.18 L294.82,273.06 L301.12,273.70 L307.43,279.26 L313.73,281.94 L320.03,286.10 L326.33,289.30 L332.64,291.04 L338.94,286.18 L345.24,285.84 L351.55,284.72 L357.85,280.86 L364.15,278.56 L370.45,279.54 L376.76,276.64 L383.06,272.56 L389.36,271.16 L395.66,270.66 L401.97,271.34 L408.27,272.10 L414.57,273.34 L420.88,274.58 L427.18,276.76 L433.48,281.18 L439.78,287.20 L446.09,290.80 L452.39,292.42 L458.69,294.14 L464.99,291.54 L471.30,287.30 L477.60,285.80 L483.90,287.96 L490.21,289.66 L496.51,290.72 L502.81,291.88 L509.11,293.98 L515.42,295.56 L521.72,298.60 L528.02,298.78 L534.32,297.16 L540.63,294.10 L546.93,291.18 L553.23,289.04 L559.53,291.38 L565.84,296.66 L572.14,301.20 L578.44,305.70 L584.75,306.12 L591.05,305.42 L597.35,305.36 L603.65,306.68 L609.96,309.00 L616.26,307.84 L622.56,308.50 L628.86,309.14 L635.17,306.66 L641.47,306.06 L647.77,307.52 L654.08,308.60 L660.38,305.82 L666.68,306.50 L672.98,305.00 L679.29,306.56 L685.59,308.30 L691.89,312.46 L698.19,315.54 L704.50,315.80 L710.80,314.06 L717.10,312.40 L723.41,309.96 L729.71,309.30 L736.01,308.68 L742.31,309.90 L748.62,307.74 L754.92,306.26 L761.22,300.30 L767.52,295.98 L773.83,290.40 L780.13,286.66 L786.43,281.66 L792.73,278.26 L799.04,274.54 L805.34,270.42 L811.64,268.76 L817.95,266.42 L824.25,265.32" stroke="#99dd55" stroke-width="1" fill="none"/>
</svg>
<div class="yl" style="top:45px">2,700</div>
<div class="yl" style="top:87px">2,600</div>
<div class="yl" style="top:129px">2,500</div>
<div class="yl" style="top:171px">2,400</div>
<div class="yl" style="top:213px">2,300</div>
<div class="yl" style="top:255px">2,200</div>
<div class="yl" style="top:297px">2,100</div>
<div class="yl" style="top:339px">2,000</div>
<div class="yl" style="top:383px">100,000</div>
<div style="position:absolute;left:828px;top:419px;height:7px;overflow:hidden;width:20px"><div class="yl" style="left:0;top:0">0</div></div>
<div class="xl" style="left:62px;transform:scaleX(1.02)">2021/04</div>
<div class="xl" style="left:194px;transform:scaleX(1.02)">2021/05</div>
<div class="xl" style="left:307px;transform:scaleX(1.02)">2021/06</div>
<div class="xl" style="left:446px;transform:scaleX(1.02)">2021/07</div>
<div class="xl" style="left:572px;transform:scaleX(1.02)">2021/08</div>
<div class="xl" style="left:704px;transform:scaleX(1.02)">2021/09</div>
<div id="vt">出来高</div>
<div id="hd">
<div class="t n" id="h0" style="left:4.50px;top:8.00px;transform:scaleX(0.9685);font-size:15px">9413</div>
<div class="t c" id="h1" style="left:56.40px;top:7.00px;transform:scaleX(0.7143);font-size:15.5px">テ</div>
<div class="t c" id="h2" style="left:67.70px;top:6.00px;transform:scaleX(0.7059);font-size:15.5px">レ</div>
<div class="t c" id="h3" style="left:77.70px;top:6.00px;transform:scaleX(0.7303);font-size:15.5px">ビ</div>
<div class="t c" id="h4" style="left:89.20px;top:8.00px;transform:scaleX(1.0368);font-size:15.5px">東</div>
<div class="t c" id="h5" style="left:104.40px;top:7.00px;transform:scaleX(1.0368);font-size:15.5px">京</div>
<div class="t c" id="h6" style="left:120.30px;top:7.00px;transform:scaleX(0.9835);font-size:15.5px">Ｈ</div>
<div class="t c" id="h7" style="left:134.70px;top:7.00px;transform:scaleX(0.9559);font-size:15.5px">Ｄ</div>
<div class="t k" id="h8" style="left:262.40px;top:6.00px;transform:scaleX(1.0270);">現在値</div>
<div class="t n" id="h9" style="left:360.20px;top:7.00px;transform:scaleX(1.0346);">2,197</div>
<div class="t n r" id="h10" style="left:488.90px;top:7.00px;transform:scaleX(0.9786);">+3</div>
<div class="t n r" id="h11" style="left:556.60px;top:7.00px;transform:scaleX(1.0290);">+0.14%</div>
<div class="t n" id="h12" style="left:623.00px;top:7.00px;transform:scaleX(1.0538);">21/09/17</div>
<div class="t n" id="h13" style="left:693.00px;top:7.00px;transform:scaleX(1.0466);">15:00:00</div>
<div class="t c" id="h14" style="left:776.10px;top:6.00px;transform:scaleX(1.0213);font-size:13px">東１</div>
<div class="t k" id="h15" style="left:835.20px;top:6.00px;transform:scaleX(0.9933);">買気配</div>
<div class="t k" id="h16" style="left:4.40px;top:31.00px;transform:scaleX(1.0326);">始値</div>
<div class="t n" id="h17" style="left:96.90px;top:32.00px;transform:scaleX(1.0458);">2,185</div>
<div class="t n" id="h18" style="left:140.20px;top:32.00px;transform:scaleX(1.0563);">09:00</div>
<div class="t k" id="h19" style="left:199.90px;top:31.00px;transform:scaleX(1.0203);">高値</div>
<div class="t n" id="h20" style="left:291.50px;top:32.00px;transform:scaleX(1.0232);">2,198</div>
<div class="t n" id="h21" style="left:335.90px;top:32.00px;transform:scaleX(1.0234);">14:58</div>
<div class="t k" id="h22" style="left:394.50px;top:31.00px;transform:scaleX(1.0326);">安値</div>
<div class="t n" id="h23" style="left:486.60px;top:32.00px;transform:scaleX(1.0404);">2,162</div>
<div class="t n" id="h24" style="left:530.90px;top:32.00px;transform:scaleX(1.0509);">09:17</div>
<div class="t k" id="h25" style="left:589.50px;top:31.00px;transform:scaleX(1.0246);">前日終値</div>
<div class="t n" id="h26" style="left:707.60px;top:32.00px;transform:scaleX(1.0119);">2,194</div>
<div class="t k" id="h27" style="left:758.50px;top:31.00px;transform:scaleX(1.0166);">出来高</div>
<div class="t n" id="h28" style="left:855.40px;top:32.00px;transform:scaleX(1.0233);">57,200</div>
</div>
</body></html>
